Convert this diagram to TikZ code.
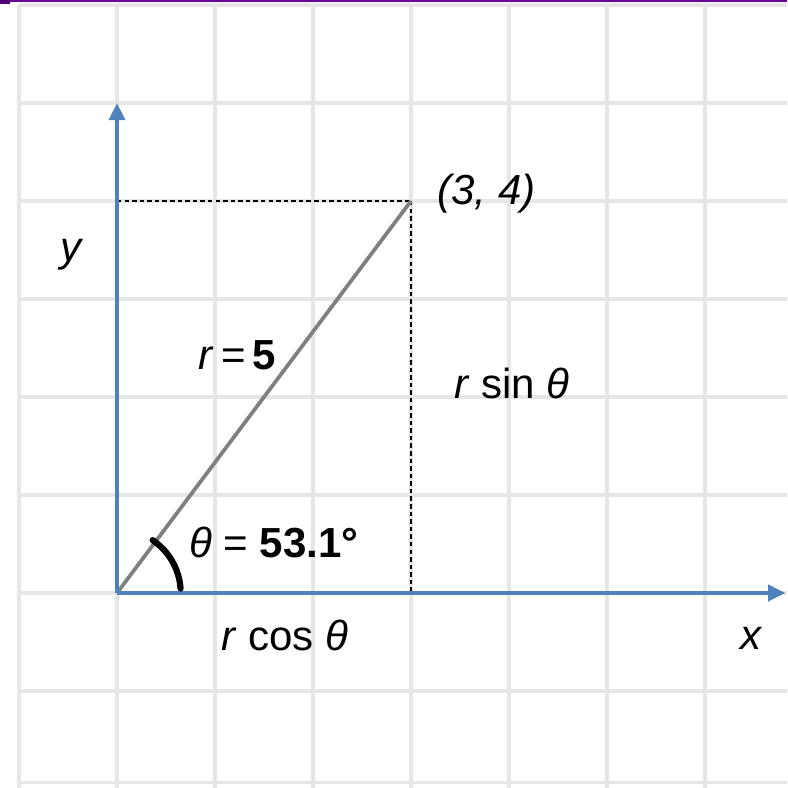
\documentclass[tikz,border=0pt]{standalone}
\usepackage{fontspec}
\setmainfont{Liberation Sans}
\usetikzlibrary{arrows.meta}
\definecolor{axisblue}{RGB}{79,129,189}
\definecolor{gridgray}{RGB}{230,230,230}
\definecolor{topbar}{RGB}{102,0,153}

\begin{document}
\begin{tikzpicture}[
	% Define the styles for the picture
	every node/.style={font=\fontsize{12.2}{14}\selectfont, inner sep=1pt},
	gridline/.style={gridgray, line width=0.9pt},
	axis/.style={axisblue, line width=1.2pt, -{Triangle[length=5pt,width=4.6pt]}},
	radius line/.style={gray, line width=1.1pt},
	helper/.style={black, line width=0.4pt, dash pattern=on 1.3pt off 0.9pt},
	anglemark/.style={black, line width=1.8pt, line cap=round}
	]
	
	\useasboundingbox (-1.194,-1.99) rectangle (6.837,6.051);
	
	% --- BACKGROUND ---
	\draw[gridline] (-1,-1.99) grid (6.837,6);
	\draw[gridline] (-1,-1.93) -- (6.837,-1.93);
	\fill[topbar] (-1.194,6.03) rectangle (6.837,6.051);
	\fill[topbar!80!black] (-1.194,6.01) rectangle (-1.09,6.051);
	
	% --- POINTS ---
	% Format: \coordinate (internal_name) at (x,y);
	
	\coordinate (O) at (0, 0);
	\coordinate (P) at (3, 4);
	\coordinate (Py) at (0, 4);
	\coordinate (Px) at (3, 0);
	\coordinate (Ytop) at (0, 5);
	\coordinate (Xend) at (6.82, 0);
	
	% --- LINES ---
	\draw[helper] (Py) -- (P);
	\draw[helper] (P) -- (Px);
	\draw[radius line] (O) -- (P);
	\draw[axis] (O) -- (Ytop);
	\draw[axis] (O) -- (Xend);
	\draw[anglemark] ([shift={(56:0.65)}]O) arc (56:4:0.65);
	
	% --- LABELS ---
	\node (ylab) at (-0.46, 3.45) {\textit{y}};
	\node (xlab) at (6.48, -0.46) {\textit{x}};
	\node (plab) at (3.77, 4.08) {\textit{(3, 4)}};
	\node (rlab) at (1.23, 2.43) {\textit{r}\,=\,\textbf{5}};
	\node (sinlab) at (4.03, 2.14) {\textit{r} sin \textit{θ}};
	\node (anglab) at (1.60, 0.51) {\textit{θ} = \textbf{53.1°}};
	\node (coslab) at (1.71, -0.43) {\textit{r} cos \textit{θ}};
	
\end{tikzpicture}
\end{document}
